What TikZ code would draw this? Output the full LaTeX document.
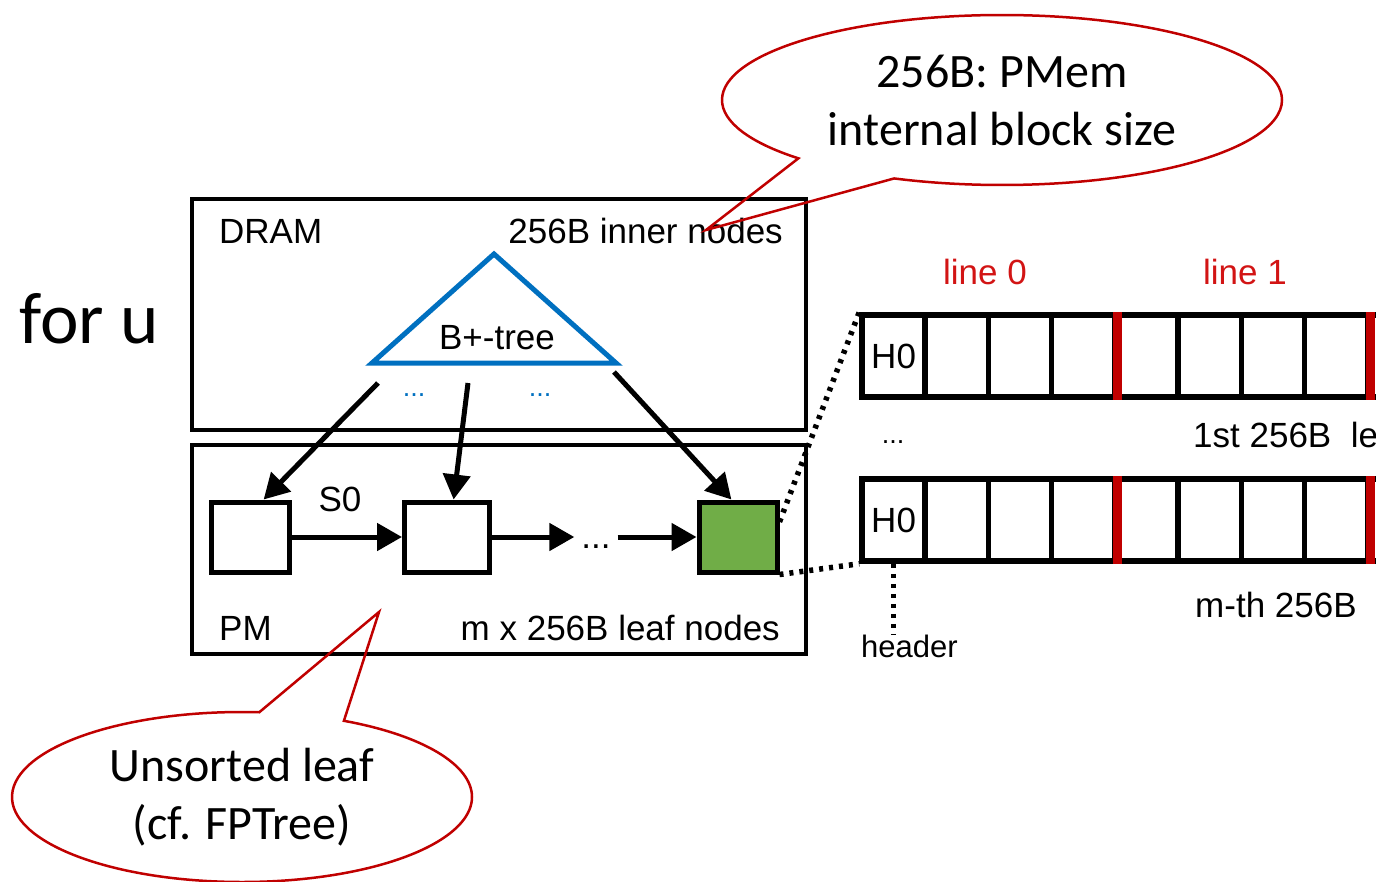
\documentclass[tikz,border=0pt]{standalone}
\usepackage{fontspec}
\setmainfont{Carlito}
\newfontfamily\figfont{Liberation Sans}
\usetikzlibrary{arrows.meta,shapes.callouts}

\definecolor{calred}{RGB}{192,0,0}
\definecolor{linered}{RGB}{210,20,20}
\definecolor{treeblue}{RGB}{0,112,192}
\definecolor{leafgreen}{RGB}{112,173,71}

\tikzset{
  lbl/.style={font=\figfont\fontsize{35}{40}\selectfont, inner sep=0},
  small/.style={font=\figfont\fontsize{27}{30}\selectfont},
  region/.style={draw, line width=4.5pt},
  leaf/.style={draw, line width=5pt, minimum width=78pt, minimum height=70pt, inner sep=0},
  ptr/.style={line width=5pt, -{Triangle[length=25pt,width=27pt]}},
  cell/.style={draw, line width=5.5pt, minimum width=63.25pt, minimum height=82pt, inner sep=0},
  redbar/.style={calred, line width=9pt},
  dots/.style={line width=5.5pt, dash pattern=on 4pt off 6pt},
  bubble/.style={ellipse callout, draw=calred, line width=2.5pt, inner sep=0, align=center, font=\fontsize{48}{58}\selectfont}
}

\begin{document}
\begin{tikzpicture}[x=1pt,y=-1pt]
\useasboundingbox (0,0) rectangle (1376,881);
\clip (0,0) rectangle (1376,881);
\node[anchor=base west, inner sep=0, font=\fontsize{73}{86}\selectfont] (foru) at (19,343) {for u};
% DRAM / PM regions
\draw[region] (192,199) rectangle (806,430);
\draw[region] (192,445) rectangle (806,654);
\node[lbl, anchor=base west] (dram) at (219,243) {DRAM};
\node[lbl, anchor=base east] (inner) at (783,243) {256B inner nodes};
\node[lbl, anchor=base west] (pm) at (219,640) {PM};
\node[lbl, anchor=base east] (leafs) at (780,640) {m x 256B leaf nodes};
% tree
\draw[treeblue, line width=5pt] (494,254) -- (616,363) -- (372,363) -- cycle;
\node[lbl] (bt) at (497,338) {B+-tree};
\node[lbl, small, treeblue, anchor=base] (bd1) at (414,396) {...};
\node[lbl, small, treeblue, anchor=base] (bd2) at (540,396) {...};
% leaves
\node[leaf] (l1) at (250,537) {};
\node[leaf, minimum width=85pt] (l2) at (447,537) {};
\node[leaf, fill=leafgreen] (lg) at (738,537) {};
\node[lbl] (s0) at (340,499) {S0};
\node[lbl, anchor=base, minimum width=43pt] (mdots) at (596,548) {...};
\coordinate (f1) at (378,383);
\coordinate (f2) at (468,383);
\coordinate (f3) at (614,372);
\draw[ptr] (f1) -- (l1.70);
\draw[ptr] (f2) -- (l2.80);
\draw[ptr] (f3) -- (lg.100);
\draw[ptr] (l1) -- (l2);
\draw[ptr] (l2.east) -- (l2.east -| mdots.west);
\draw[ptr] (mdots.east |- lg.west) -- (lg.west);
% cache lines
\node[lbl, linered] (ln0) at (985,272) {line 0};
\node[lbl, linered] (ln1) at (1245,272) {line 1};
\foreach \r/\y in {1/356,2/520}{
  \foreach \i in {0,...,8}
    \node[cell] (r\r-\i) at ({893.6+63.25*\i},\y) {};
  \node[lbl] (h\r) at (r\r-0) {H0};
  \foreach \i in {3,7}
    \draw[redbar] (r\r-\i.north east) -- (r\r-\i.south east);
}
\node[lbl, small, anchor=base] (vd) at (893,443) {...};
\node[lbl, anchor=base west] (first) at (1193,447) {1st 256B\ \ le};
\node[lbl, anchor=base west] (mth) at (1195,617) {m-th 256B};
\node[lbl, anchor=base west, font=\figfont\fontsize{31}{36}\selectfont] (hdr) at (861,657) {header};
\draw[dots] (r2-0.south) -- (r2-0.south |- hdr.north);
\draw[dots] (lg.20) -- (r1-0.north west);
\draw[dots] (lg.south east) -- (r2-0.south west);
% callouts
\node[bubble, minimum width=560pt, minimum height=170pt, callout absolute pointer={(706,230)}, callout pointer arc=24] (bubtop) at (1002,100) {256B: PMem\\internal block size};
\node[bubble, minimum width=460pt, minimum height=170pt, callout absolute pointer={(379,612)}, callout pointer arc=22] (bubbot) at (242,797) {Unsorted leaf\\(cf. FPTree)};
\end{tikzpicture}
\end{document}
